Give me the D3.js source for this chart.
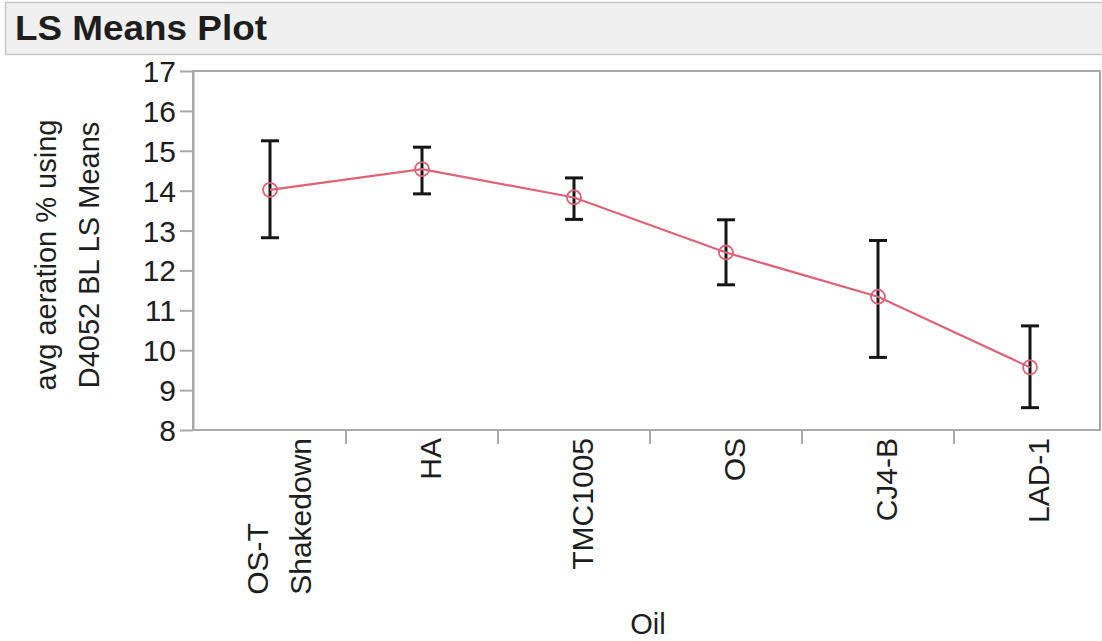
<!DOCTYPE html>
<html>
<head>
<meta charset="utf-8">
<script src="https://cdn.jsdelivr.net/npm/d3@7"></script>
<style>
  html, body { margin: 0; padding: 0; background: #ffffff; }
  svg { display: block; }
  text { font-family: "Liberation Sans", Arial, sans-serif; fill: #1e1e1e; }
</style>
</head>
<body>
<svg id="chart" width="1102" height="641"></svg>
<script>
// LS means of average aeration by oil, with error bars
const categories = ["OS-T\nShakedown", "HA", "TMC1005", "OS", "CJ4-B", "LAD-1"];
const lsMeans    = [14.02, 14.54, 13.83, 12.45, 11.34, 9.57];
const upperBound = [15.25, 15.09, 14.32, 13.27, 12.75, 10.61];
const lowerBound = [12.82, 13.92, 13.28, 11.64, 9.82, 8.56];
const yTicks     = [8, 9, 10, 11, 12, 13, 14, 15, 16, 17];
const yTitle     = ["avg aeration % using", "D4052 BL LS Means"];
const xTitle     = "Oil";
const panelTitle = "LS Means Plot";

const svg = d3.select("#chart");
const plot = { left: 193, right: 1100, top: 71, bottom: 430 };
const axisGray = "#a9a9a9";
const lineRed = "#e06276";

// header bar
svg.append("rect")
  .attr("x", 5.5).attr("y", 2.5).attr("width", 1110).attr("height", 52)
  .attr("fill", "#f0f0f0").attr("stroke", "#c6c6c6").attr("stroke-width", 1.5);
svg.append("text")
  .attr("x", 15).attr("y", 40)
  .attr("font-size", 35).attr("font-weight", "bold")
  .attr("textLength", 252).attr("lengthAdjust", "spacingAndGlyphs")
  .text(panelTitle);

const x = d3.scaleBand().domain(categories).range([194, 1106]);
const y = d3.scaleLinear().domain([8, 17]).range([plot.bottom, plot.top]);
const cx = c => x(c) + x.bandwidth() / 2;

// frame
svg.append("rect")
  .attr("x", plot.left).attr("y", plot.top)
  .attr("width", plot.right - plot.left).attr("height", plot.bottom - plot.top)
  .attr("fill", "none").attr("stroke", axisGray).attr("stroke-width", 2);

// y axis
const yAxis = svg.append("g")
  .attr("transform", `translate(${plot.left},0)`)
  .call(d3.axisLeft(y).tickValues(yTicks).tickSize(13).tickSizeOuter(0).tickPadding(4));
yAxis.select(".domain").attr("stroke", axisGray).attr("stroke-width", 2);
yAxis.selectAll(".tick line").attr("stroke", axisGray).attr("stroke-width", 2);
yAxis.selectAll(".tick text")
  .attr("font-size", 30).attr("font-family", "Liberation Sans, Arial, sans-serif")
  .attr("fill", "#1e1e1e").attr("dy", "0.35em");

// category boundary ticks along the bottom
svg.append("g").selectAll("line")
  .data(categories.slice(1))
  .join("line")
  .attr("x1", d => x(d)).attr("x2", d => x(d))
  .attr("y1", plot.bottom + 1).attr("y2", plot.bottom + 14)
  .attr("stroke", axisGray).attr("stroke-width", 2);

// rotated category labels
const labelTop = 438;
const lineGap = 43;
const labels = svg.append("g");
categories.forEach(cat => {
  const lines = cat.split("\n");
  const n = lines.length;
  const texts = lines.map(ln => labels.append("text").attr("font-size", 30).text(ln));
  const maxLen = d3.max(texts, t => t.node().getComputedTextLength());
  texts.forEach((t, i) => {
    const bx = cx(cat) + 19 + (i - (n - 1) / 2) * lineGap;
    const by = labelTop + maxLen;
    t.attr("text-anchor", "start")
     .attr("transform", `translate(${bx},${by}) rotate(-90)`);
  });
});

// axis titles
yTitle.forEach((ln, i) => {
  svg.append("text")
    .attr("font-size", 29).attr("text-anchor", "middle")
    .attr("transform", `translate(${56 + i * 43},255) rotate(-90)`)
    .text(ln);
});
svg.append("text")
  .attr("x", 648).attr("y", 634)
  .attr("font-size", 29).attr("text-anchor", "middle")
  .text(xTitle);

// error bars
const capHalf = 9;
const bars = svg.append("g").attr("stroke", "#151515").attr("stroke-width", 3);
categories.forEach((cat, i) => {
  const px = cx(cat);
  bars.append("line").attr("x1", px).attr("x2", px)
    .attr("y1", y(upperBound[i])).attr("y2", y(lowerBound[i]));
  bars.append("line").attr("x1", px - capHalf).attr("x2", px + capHalf)
    .attr("y1", y(upperBound[i])).attr("y2", y(upperBound[i]));
  bars.append("line").attr("x1", px - capHalf).attr("x2", px + capHalf)
    .attr("y1", y(lowerBound[i])).attr("y2", y(lowerBound[i]));
});

// means line and markers
const pts = categories.map((c, i) => [cx(c), y(lsMeans[i])]);
svg.append("path")
  .attr("d", d3.line()(pts))
  .attr("fill", "none").attr("stroke", lineRed).attr("stroke-width", 2.2);
svg.append("g").selectAll("circle")
  .data(pts).join("circle")
  .attr("cx", d => d[0]).attr("cy", d => d[1]).attr("r", 7)
  .attr("fill", "none").attr("stroke", lineRed).attr("stroke-width", 1.8);
</script>
</body>
</html>
